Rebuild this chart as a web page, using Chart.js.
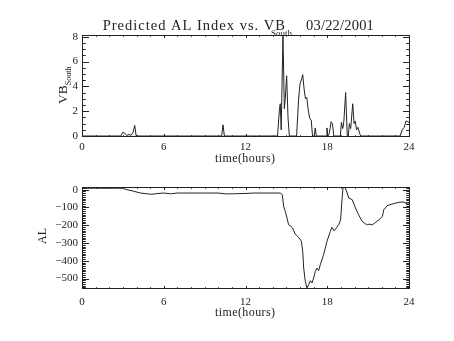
<!DOCTYPE html>
<html>
<head>
<meta charset="UTF-8">
<title>Predicted AL Index vs. VB South</title>
<script src="https://cdn.jsdelivr.net/npm/chart.js"></script>
<style>
  html, body { margin: 0; padding: 0; background: #fff; }
  body { width: 454px; height: 341px; position: relative; overflow: hidden; }
  canvas { position: absolute; left: 0; }
  #vbChart { top: 0; }
  #alChart { top: 170px; }
</style>
</head>
<body>
<canvas id="vbChart" width="454" height="170"></canvas>
<canvas id="alChart" width="454" height="171"></canvas>
<script>
// VB south (mV/m) against UT hours
const vbHours = [0, 2.85, 3.0, 3.15, 3.3, 3.45, 3.6, 3.75, 3.87, 3.97, 4.0,
  10.25, 10.35, 10.45, 14.35, 14.48, 14.55, 14.62, 14.75, 14.85, 14.92, 15.02, 15.12, 15.22,
  15.75, 15.9, 16.0, 16.12, 16.2, 16.3, 16.4, 16.5, 16.6, 16.72, 16.82, 16.92,
  17.05, 17.12, 17.2, 17.92, 17.98, 18.05, 18.15, 18.28, 18.38, 18.48,
  18.96, 19.04, 19.14, 19.22, 19.35, 19.47, 19.55, 19.62, 19.72, 19.87, 19.97, 20.05,
  20.15, 20.25, 20.38, 20.45, 23.35, 23.5, 23.65, 23.78, 24.0];
const vbSouth = [0, 0, 0.3, 0.2, 0.05, 0.12, 0.05, 0.3, 0.85, 0.05, 0,
  0, 0.9, 0, 0, 2.0, 2.6, 0.5, 8.14, 2.2, 3.0, 4.85, 1.5, 0,
  0, 3.0, 4.2, 4.6, 4.95, 3.8, 3.0, 3.1, 2.1, 1.4, 1.3, 0,
  0, 0.65, 0, 0, 0.65, 0, 0.2, 1.15, 1.0, 0,
  0, 1.1, 0.6, 1.2, 3.5, 0, 0, 1.0, 0.6, 2.6, 1.0, 1.2,
  0.5, 0.7, 0.2, 0, 0, 0.5, 0.7, 1.22, 1.1];

// predicted AL (nT)
const alHours = [0, 1, 2, 2.95, 3.3, 3.8, 4.3, 4.76, 5.13, 5.5, 6.0, 6.5, 7.0, 8.0, 9.0, 10.0,
  10.6, 11.2, 12.1, 12.6, 13.5, 14.55, 14.7, 14.8, 14.92, 15.05, 15.16, 15.33, 15.45,
  15.65, 15.9, 16.1, 16.2, 16.27, 16.39, 16.51, 16.63, 16.76, 16.88, 17.0, 17.12,
  17.25, 17.37, 17.49, 17.73, 17.98, 18.22, 18.34, 18.51, 18.7, 18.85, 18.98, 19.06,
  19.16, 19.33, 19.46, 19.58, 19.83, 20.07, 20.3, 20.56, 20.8, 20.95, 21.07, 21.3,
  21.55, 21.8, 22.05, 22.15, 22.4, 22.75, 23.25, 23.6, 23.9, 24.0];
const alIndex = [8, 8, 8, 8, 0, -9, -19, -23, -26, -22, -19, -23, -19, -19, -19, -19,
  -24, -23, -21, -19, -19, -19, -28, -94, -122, -160, -197, -206, -215,
  -250, -268, -290, -347, -441, -516, -553, -535, -512, -525, -497, -460,
  -441, -455, -422, -366, -291, -235, -212, -231, -212, -195, -170, -80,
  15, 9, -19, -47, -56, -103, -141, -178, -192, -197, -194, -198,
  -184, -169, -150, -113, -90, -81, -71, -69, -81, -80];

const hourTicks = [0, 6, 12, 18, 24];
const vbTicks = [0, 2, 4, 6, 8];
const alTicks = [0, -100, -200, -300, -400, -500];

const ink = '#222';
const serif = 'Liberation Serif';

// IDL style box with inward ticks on all four sides
const frame = {
  id: 'frame',
  afterDatasetsDraw(chart, args, opts) {
    const { ctx, chartArea: a, scales: { x, y } } = chart;
    const L = Math.round(a.left) + 0.5, R = Math.round(a.right) + 0.5;
    const T = Math.round(a.top) + 0.5, B = Math.round(a.bottom) + 0.5;
    ctx.save();
    ctx.strokeStyle = ink;
    ctx.lineWidth = 1;
    ctx.strokeRect(L, T, R - L, B - T);
    ctx.beginPath();
    const isMajor = (s, v) => s.ticks.some(t => Math.abs(t.value - v) < 1e-6);
    const nx = Math.round((x.max - x.min) / opts.xMinor);
    for (let i = 0; i <= nx; i++) {
      const v = x.min + i * opts.xMinor;
      const px = Math.round(x.getPixelForValue(v)) + 0.5;
      const len = isMajor(x, v) ? opts.xLen : opts.xLen * 0.5;
      ctx.moveTo(px, B); ctx.lineTo(px, B - len);
      ctx.moveTo(px, T); ctx.lineTo(px, T + len);
    }
    const first = Math.ceil(y.min / opts.yMinor - 1e-6);
    const last = Math.floor(y.max / opts.yMinor + 1e-6);
    for (let k = first; k <= last; k++) {
      const v = k * opts.yMinor;
      const py = Math.round(y.getPixelForValue(v)) + 0.5;
      const len = isMajor(y, v) ? opts.yLen : opts.yLen * 0.5;
      ctx.moveTo(L, py); ctx.lineTo(L + len, py);
      ctx.moveTo(R, py); ctx.lineTo(R - len, py);
    }
    ctx.stroke();
    ctx.restore();
  }
};

// free text: titles, axis names with subscripts
const captions = {
  id: 'captions',
  afterDraw(chart, args, opts) {
    const ctx = chart.ctx;
    for (const c of opts.items) {
      ctx.save();
      ctx.translate(c.x, c.y);
      if (c.rotate) ctx.rotate(c.rotate);
      ctx.fillStyle = ink;
      ctx.textBaseline = 'alphabetic';
      let w = 0;
      for (const p of c.parts) {
        ctx.font = p.font;
        ctx.letterSpacing = p.spacing || '0px';
        w += ctx.measureText(p.text).width;
      }
      let cx = c.align === 'center' ? -w / 2 : 0;
      for (const p of c.parts) {
        ctx.font = p.font;
        ctx.letterSpacing = p.spacing || '0px';
        ctx.fillText(p.text, cx + (p.dx || 0), p.dy || 0);
        cx += ctx.measureText(p.text).width;
      }
      ctx.restore();
    }
  }
};

function points(xs, ys) {
  return xs.map((v, i) => ({ x: v, y: ys[i] }));
}

function makeChart(id, xs, ys, yTicks, yRange, layout, frameOpts, items) {
  return new Chart(document.getElementById(id), {
    type: 'line',
    data: {
      datasets: [{
        data: points(xs, ys),
        borderColor: ink,
        borderWidth: 1,
        pointRadius: 0,
        tension: 0
      }]
    },
    options: {
      responsive: false,
      animation: false,
      devicePixelRatio: 1,
      layout: { padding: layout.padding },
      plugins: {
        legend: { display: false },
        tooltip: { enabled: false },
        frame: frameOpts,
        captions: { items }
      },
      scales: {
        x: {
          type: 'linear',
          min: 0,
          max: 24,
          grid: { display: false, drawTicks: false },
          border: { display: false },
          afterBuildTicks: s => { s.ticks = hourTicks.map(v => ({ value: v })); },
          afterFit: s => { s.height = layout.xHeight; },
          ticks: {
            padding: layout.xPad,
            maxRotation: 0,
            color: ink,
            font: { family: serif, size: 11 }
          }
        },
        y: {
          min: yRange[0],
          max: yRange[1],
          grid: { display: false, drawTicks: false },
          border: { display: false },
          afterBuildTicks: s => { s.ticks = yTicks.map(v => ({ value: v })); },
          afterFit: s => { s.width = 82; },
          ticks: {
            padding: 4,
            color: ink,
            font: { family: serif, size: 11 },
            callback: v => String(v).replace('-', '\u2212')
          }
        }
      }
    },
    plugins: [frame, captions]
  });
}

const titleFont = '14.5px "' + serif + '"';
const subFont = '9px "' + serif + '"';
const axisFont = '12px "' + serif + '"';

makeChart('vbChart', vbHours, vbSouth, vbTicks, [0, 8.14],
  { padding: { left: 0, right: 45, top: 35, bottom: 0 }, xHeight: 34, xPad: 5 },
  { xMinor: 1, xLen: 2.5, yMinor: 0.5, yLen: 6.5 },
  [
    { x: 102.7, y: 30, parts: [{ text: 'Predicted AL Index vs. VB', font: titleFont, spacing: '1px' }] },
    { x: 271, y: 36, parts: [{ text: 'South', font: subFont }] },
    { x: 306, y: 30, parts: [{ text: '03/22/2001', font: titleFont, spacing: '0.2px' }] },
    { x: 245.2, y: 162, align: 'center', parts: [{ text: 'time(hours)', font: axisFont, spacing: '0.4px' }] },
    { x: 67, y: 104, rotate: -Math.PI / 2, parts: [
      { text: 'VB', font: '13.5px "' + serif + '"' },
      { text: 'South', font: '8px "' + serif + '"', dy: 4 }
    ] }
  ]);

makeChart('alChart', alHours, alIndex, alTicks, [-553, 15],
  { padding: { left: 0, right: 45, top: 17, bottom: 0 }, xHeight: 53, xPad: 8 },
  { xMinor: 1, xLen: 2.5, yMinor: 10, yLen: 6.5 },
  [
    { x: 245.2, y: 145.5, align: 'center', parts: [{ text: 'time(hours)', font: axisFont, spacing: '0.4px' }] },
    { x: 46, y: 66, rotate: -Math.PI / 2, align: 'center', parts: [{ text: 'AL', font: axisFont }] }
  ]);
</script>
</body>
</html>
